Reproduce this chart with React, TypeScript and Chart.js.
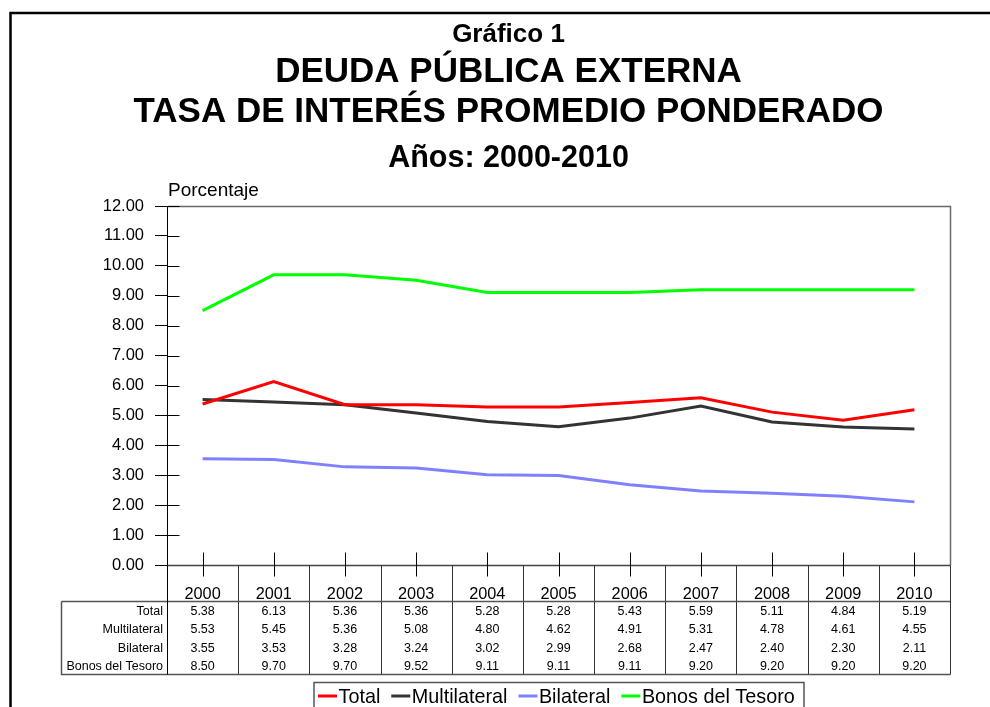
import React, { useEffect, useRef } from "react";
import { Chart, registerables } from "chart.js";

Chart.register(...registerables);

const categories = ["2000", "2001", "2002", "2003", "2004", "2005", "2006", "2007", "2008", "2009", "2010"];
const totalValues = [5.38, 6.13, 5.36, 5.36, 5.28, 5.28, 5.43, 5.59, 5.11, 4.84, 5.19];
const multilateralValues = [5.53, 5.45, 5.36, 5.08, 4.8, 4.62, 4.91, 5.31, 4.78, 4.61, 4.55];
const bilateralValues = [3.55, 3.53, 3.28, 3.24, 3.02, 2.99, 2.68, 2.47, 2.4, 2.3, 2.11];
const bonosValues = [8.5, 9.7, 9.7, 9.52, 9.11, 9.11, 9.11, 9.2, 9.2, 9.2, 9.2];
const seriesNames = ["Total", "Multilateral", "Bilateral", "Bonos del Tesoro"];
const seriesColors = ["#FF0000", "#333333", "#8080FF", "#00FF00"];
const titleLines = ["Gráfico 1", "DEUDA PÚBLICA EXTERNA", "TASA DE INTERÉS PROMEDIO PONDERADO", "Años: 2000-2010"];
const yAxisTitle = "Porcentaje";

const FONT = "'Liberation Sans', Arial, Helvetica, sans-serif";

const customPlugin = {
  id: "customDecor",
  beforeDraw(chart: any) {
    const ctx = chart.ctx;
    ctx.save();
    ctx.fillStyle = "#ffffff";
    ctx.fillRect(0, 0, chart.width, chart.height);
    ctx.restore();
  },
  afterDraw(chart: any) {
    const ctx: CanvasRenderingContext2D = chart.ctx;
    const area = chart.chartArea;
    const xs = chart.scales.x;
    const ys = chart.scales.y;
    const L = Math.round(area.left) + 0.5;
    const R = Math.round(area.right) + 0.5;
    const T = Math.round(area.top) + 0.5;
    const B = Math.round(area.bottom) + 0.5;
    ctx.save();

    // outer frame
    ctx.strokeStyle = "#000";
    ctx.lineWidth = 2.5;
    ctx.strokeRect(10.5, 13, 1100, 800);

    // titles
    ctx.fillStyle = "#000";
    ctx.textAlign = "center";
    ctx.textBaseline = "alphabetic";
    const cx = 508.5;
    ctx.font = `bold 26px ${FONT}`;
    ctx.fillText(titleLines[0], cx, 42);
    ctx.font = `bold 35px ${FONT}`;
    ctx.fillText(titleLines[1], cx, 82);
    ctx.fillText(titleLines[2], cx, 122);
    ctx.font = `bold 30.5px ${FONT}`;
    ctx.fillText(titleLines[3], cx, 167);

    // axis title
    ctx.textAlign = "left";
    ctx.font = `19px ${FONT}`;
    ctx.fillText(yAxisTitle, 168, 196);

    // plot frame: top, right (grey)
    ctx.lineWidth = 1.5;
    ctx.strokeStyle = "#6a6a6a";
    ctx.beginPath();
    ctx.moveTo(L, T);
    ctx.lineTo(R, T);
    ctx.lineTo(R, B);
    ctx.stroke();

    // y tick inner parts
    ctx.lineWidth = 1;
    ctx.strokeStyle = "#000";
    ys.ticks.forEach((t: any) => {
      const py = Math.round(ys.getPixelForValue(t.value)) + 0.5;
      ctx.beginPath();
      ctx.moveTo(L, py);
      ctx.lineTo(L + 12, py);
      ctx.stroke();
    });

    // table geometry
    const tableHeaderY = 601.5;
    const tableBottom = 674.5;
    const tableLeft = 61.5;

    // x axis line
    ctx.strokeStyle = "#444";
    ctx.lineWidth = 1.5;
    ctx.beginPath();
    ctx.moveTo(L, B);
    ctx.lineTo(R, B);
    ctx.stroke();

    // x ticks crossing the axis
    ctx.strokeStyle = "#000";
    ctx.lineWidth = 1;
    categories.forEach((_, i) => {
      const px = Math.round(xs.getPixelForValue(i)) + 0.5;
      ctx.beginPath();
      ctx.moveTo(px, B - 13);
      ctx.lineTo(px, B + 11);
      ctx.stroke();
    });

    // table vertical lines
    ctx.strokeStyle = "#333";
    ctx.lineWidth = 1;
    const bounds: number[] = [area.left];
    for (let i = 0; i < categories.length - 1; i++) {
      bounds.push((xs.getPixelForValue(i) + xs.getPixelForValue(i + 1)) / 2);
    }
    bounds.push(area.right);
    bounds.forEach((bx) => {
      const px = Math.round(bx) + 0.5;
      ctx.beginPath();
      ctx.moveTo(px, B);
      ctx.lineTo(px, tableBottom);
      ctx.stroke();
    });
    ctx.strokeStyle = "#555";
    ctx.lineWidth = 1.5;
    ctx.beginPath();
    ctx.moveTo(tableLeft, tableHeaderY);
    ctx.lineTo(R, tableHeaderY);
    ctx.moveTo(tableLeft, tableHeaderY);
    ctx.lineTo(tableLeft, tableBottom);
    ctx.lineTo(R, tableBottom);
    ctx.stroke();
    ctx.strokeStyle = "#000";
    ctx.lineWidth = 1;
    ctx.beginPath();
    ctx.moveTo(L, B);
    ctx.lineTo(L, tableBottom);
    ctx.stroke();

    // year labels
    ctx.fillStyle = "#000";
    ctx.textAlign = "center";
    ctx.font = `16.3px ${FONT}`;
    categories.forEach((c, i) => {
      ctx.fillText(c, xs.getPixelForValue(i), 599);
    });

    // table rows
    const rowBaselines = [614.8, 633.1, 651.6, 670];
    const seriesData = chart.data.datasets.map((d: any) => d.data as number[]);
    ctx.font = `12.5px ${FONT}`;
    seriesData.forEach((vals: number[], r: number) => {
      ctx.textAlign = "right";
      ctx.fillText(seriesNames[r], 163, rowBaselines[r]);
      ctx.textAlign = "center";
      vals.forEach((v, i) => {
        ctx.fillText(v.toFixed(2), xs.getPixelForValue(i), rowBaselines[r]);
      });
    });

    // legend
    ctx.strokeStyle = "#555";
    ctx.lineWidth = 1.5;
    ctx.strokeRect(314, 682.5, 490, 60);
    ctx.font = `19.8px ${FONT}`;
    ctx.textAlign = "left";
    let lx = 318;
    seriesNames.forEach((name, i) => {
      ctx.strokeStyle = seriesColors[i];
      ctx.lineWidth = 3;
      ctx.beginPath();
      ctx.moveTo(lx, 696);
      ctx.lineTo(lx + 19, 696);
      ctx.stroke();
      ctx.fillStyle = "#000";
      ctx.fillText(name, lx + 20.5, 703);
      lx += 20.5 + ctx.measureText(name).width + 11;
    });

    ctx.restore();
  },
};

export default function App() {
  const canvasRef = useRef<HTMLCanvasElement | null>(null);

  useEffect(() => {
    const canvas = canvasRef.current;
    if (!canvas) return;
    const valuesList = [totalValues, multilateralValues, bilateralValues, bonosValues];
    const chart = new Chart(canvas, {
      type: "line",
      data: {
        labels: categories,
        datasets: valuesList.map((vals, i) => ({
          label: seriesNames[i],
          data: vals,
          borderColor: seriesColors[i],
          backgroundColor: seriesColors[i],
          borderWidth: 3,
          pointRadius: 0,
          pointHoverRadius: 0,
          tension: 0,
          fill: false,
        })),
      },
      options: {
        responsive: false,
        animation: false,
        devicePixelRatio: 1,
        layout: { padding: { top: 206, right: 40, left: 0, bottom: 0 } },
        plugins: {
          legend: { display: false },
          title: { display: false },
          tooltip: { enabled: false },
        },
        scales: {
          x: {
            type: "category",
            offset: true,
            grid: { display: false },
            ticks: { display: false },
            border: { display: false },
            afterFit: (scale: any) => {
              scale.height = 142;
            },
          },
          y: {
            min: 0,
            max: 12,
            ticks: {
              stepSize: 1,
              color: "#000",
              padding: 11,
              font: { family: FONT, size: 16.5 },
              callback: (v: any) => Number(v).toFixed(2),
            },
            grid: {
              drawOnChartArea: false,
              drawTicks: true,
              tickLength: 12,
              color: "#000",
              lineWidth: 1,
            },
            border: { display: true, color: "#000", width: 1 },
            afterFit: (scale: any) => {
              scale.width = 167;
            },
          },
        },
      },
      plugins: [customPlugin],
    });
    return () => chart.destroy();
  }, []);

  return (
    <div style={{ position: "absolute", left: 0, top: 0, width: 990, height: 707, overflow: "hidden", background: "#fff" }}>
      <canvas ref={canvasRef} width={990} height={707} style={{ display: "block", width: 990, height: 707 }} />
    </div>
  );
}
